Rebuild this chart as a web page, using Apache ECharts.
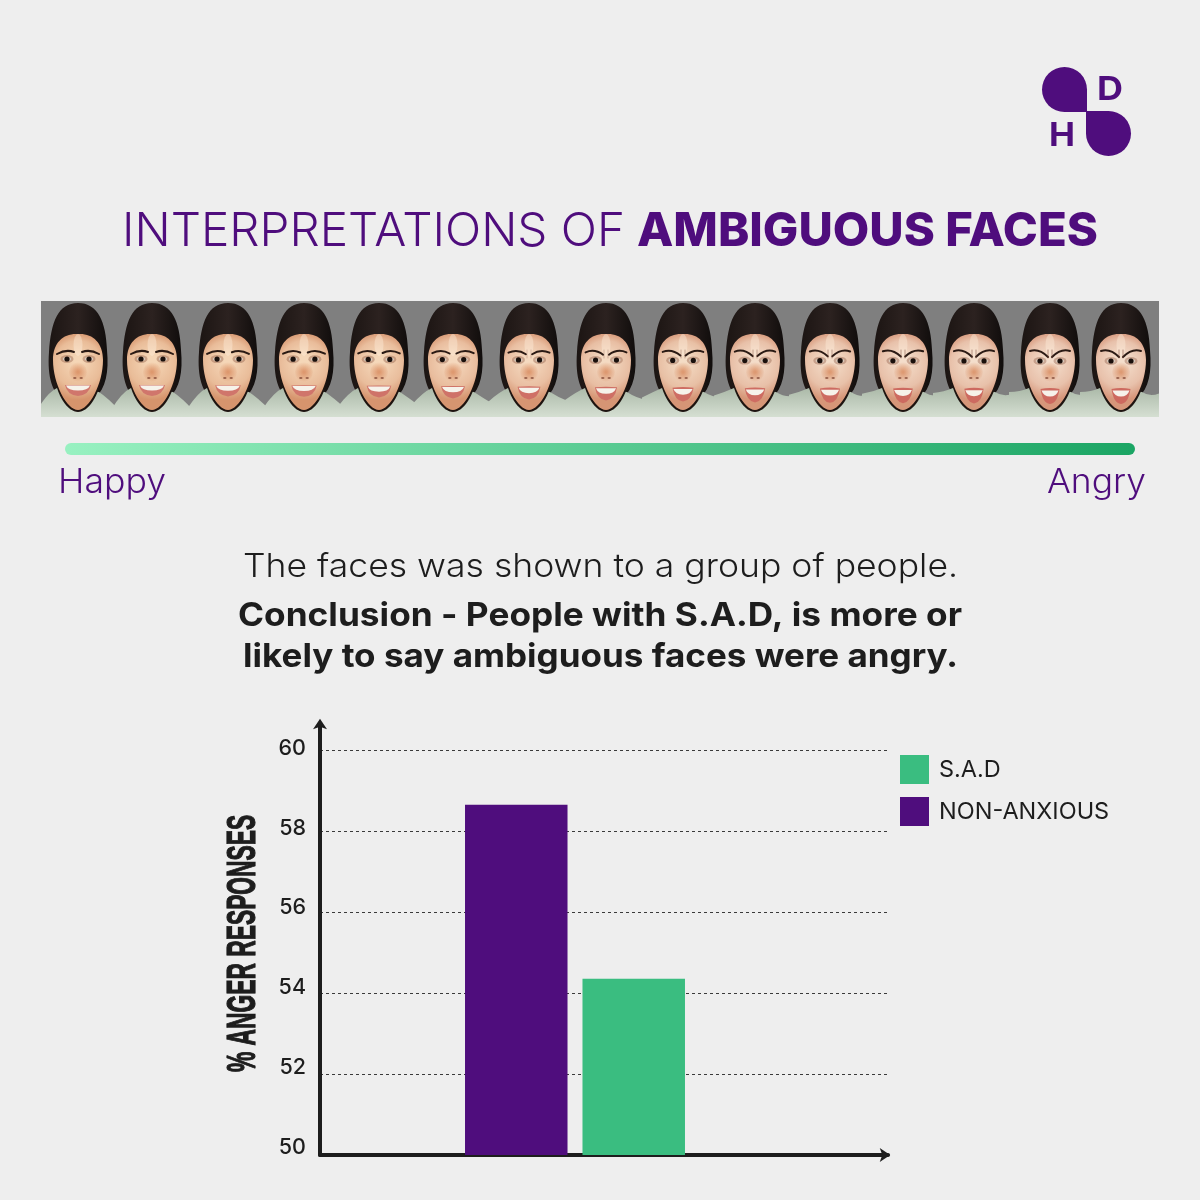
<!DOCTYPE html>
<html><head><meta charset="utf-8">
<style>html,body{margin:0;padding:0;background:#eeeeee}#c{width:1200px;height:1200px}</style>
<script src="https://cdn.jsdelivr.net/npm/echarts@6/dist/echarts.min.js"></script>
</head><body><div id="c"></div>
<script>
// ---- data ----
const groupLabels = [''];
const nonAnxiousValues = [58.65];
const sadValues = [54.35];
const seriesNames = ['NON-ANXIOUS', 'S.A.D'];
const legendOrder = ['S.A.D', 'NON-ANXIOUS'];
const yTicks = [50, 52, 54, 56, 58, 60];
const faceCentres = [78,152,228,304,379,453,529,606,683,755,830,903,974,1050,1121];
const faceAnger = [0,0,.05,.1,.2,.3,.45,.55,.7,.8,.85,.9,.95,1,1];

const PURPLE = '#4f0d7d', GREEN = '#3abd80', INK = '#1d1d1d';
const FONT = 'Inter, "Open Sans", sans-serif';
const measure = document.createElement('canvas').getContext('2d');

function fit(text, x0, x1, cy, size, weight, color, family) {
  const fam = family || FONT;
  measure.font = weight + ' ' + size + 'px ' + fam;
  const w = measure.measureText(text).width;
  return { type:'text', x:x0, y:cy, scaleX:(x1-x0)/w, z:10,
    style:{ text, fill:color, font: weight + ' ' + size + 'px ' + fam, align:'left', verticalAlign:'middle' } };
}

// --- decorative face strip ---
function mix(a,b,t){return a.map((v,i)=>Math.round(v+(b[i]-v)*t));}
function rgb(a){return 'rgb('+a.join(',')+')';}
function drawFace(g, cx, t){
  const Y = y => y - 301;
  // hair
  let s = g.createLinearGradient(cx-28,0,cx+28,0);
  s.addColorStop(0,'#1c1513'); s.addColorStop(.5,'#2c2220'); s.addColorStop(1,'#120e0d');
  g.fillStyle = s;
  g.beginPath(); g.moveTo(cx,Y(303));
  g.bezierCurveTo(cx+20,Y(303),cx+28,Y(322),cx+29,Y(350));
  g.bezierCurveTo(cx+31,Y(372),cx+28,Y(388),cx+17,Y(398));
  g.lineTo(cx-17,Y(398));
  g.bezierCurveTo(cx-25,Y(392),cx-31,Y(378),cx-29,Y(352));
  g.bezierCurveTo(cx-27,Y(322),cx-20,Y(303),cx,Y(303));
  g.fill();
  // shirt with collar
  s = g.createLinearGradient(0,Y(386),0,Y(417));
  s.addColorStop(0,'#a9b7a6'); s.addColorStop(1,'#d5dfd2');
  g.fillStyle = s;
  const valley = 410 - t*18;
  g.beginPath(); g.moveTo(cx-41,Y(418)); g.lineTo(cx-41,Y(valley));
  g.quadraticCurveTo(cx-30,Y(392),cx-21,Y(388));
  g.lineTo(cx+21,Y(392));
  g.quadraticCurveTo(cx+30,Y(398),cx+41,Y(valley));
  g.lineTo(cx+41,Y(418)); g.closePath(); g.fill();
  // jaw shadow
  g.fillStyle='#1e1410';
  g.beginPath(); g.moveTo(cx-24,Y(372));
  g.bezierCurveTo(cx-22,Y(396),cx-10,Y(412),cx,Y(412));
  g.bezierCurveTo(cx+10,Y(412),cx+22,Y(396),cx+24,Y(372));
  g.closePath(); g.fill();
  // skin
  const lit = mix([245,214,182],[244,222,204],t), edge = mix([214,148,108],[214,150,122],t);
  s = g.createRadialGradient(cx,Y(360),4,cx,Y(366),34);
  s.addColorStop(0,rgb(lit)); s.addColorStop(.65,rgb(mix(lit,edge,.4))); s.addColorStop(1,rgb(edge));
  g.fillStyle = s;
  g.beginPath(); g.moveTo(cx,Y(334));
  g.bezierCurveTo(cx+14,Y(333),cx+25,Y(342),cx+25,Y(360));
  g.bezierCurveTo(cx+25,Y(384),cx+11,Y(410),cx,Y(410));
  g.bezierCurveTo(cx-11,Y(410),cx-25,Y(384),cx-25,Y(360));
  g.bezierCurveTo(cx-25,Y(342),cx-14,Y(333),cx,Y(334));
  g.fill();
  // forehead light
  g.fillStyle='rgba(255,240,222,.4)';
  g.beginPath(); g.ellipse(cx,Y(345),4.5,11,0,0,7); g.fill();
  // eyes
  const eyeY = 359 + t*2, ex = 11 - t*1;
  [-1,1].forEach(d=>{
    g.fillStyle='rgba(140,90,70,.4)';
    g.beginPath(); g.ellipse(cx+d*ex,Y(eyeY),6.5,4,0,0,7); g.fill();
    g.fillStyle='#d9c9bb';
    g.beginPath(); g.ellipse(cx+d*ex,Y(eyeY),4.2,1.9,0,0,7); g.fill();
    g.fillStyle='#1a100c';
    g.beginPath(); g.arc(cx+d*ex,Y(eyeY),2.6,0,7); g.fill();
    // brow
    g.strokeStyle='#2a1a14'; g.lineWidth=2; g.lineCap='round';
    g.beginPath();
    g.moveTo(cx+d*(ex+10),Y(354-t*3));
    g.quadraticCurveTo(cx+d*(ex+1),Y(349-t*1),cx+d*(ex-7-t*1),Y(352+t*5));
    g.stroke();
  });
  // frown wrinkles
  if(t>.3){ g.strokeStyle='rgba(120,70,55,'+(t*.55)+')'; g.lineWidth=1;
    [-2,2].forEach(d=>{g.beginPath();g.moveTo(cx+d,Y(350));g.lineTo(cx+d,Y(358));g.stroke();});
  }
  // nose
  s = g.createRadialGradient(cx,Y(372),1,cx,Y(372),10);
  s.addColorStop(0,'rgba(215,135,90,.75)'); s.addColorStop(1,'rgba(215,135,90,0)');
  g.fillStyle=s;
  g.beginPath(); g.ellipse(cx,Y(372),9,10,0,0,7); g.fill();
  g.fillStyle='rgba(110,50,35,.65)';
  [-1,1].forEach(d=>{g.beginPath();g.ellipse(cx+d*3.2,Y(378),1.7,1,0,0,7);g.fill();});
  // mouth
  const mw = 12 - t*3.5, my = 386 + t*6;
  g.fillStyle = rgb(mix([208,118,108],[205,105,95],t));
  g.beginPath(); g.moveTo(cx-mw-1,Y(my-1-t*2));
  g.quadraticCurveTo(cx,Y(my-1-t*4),cx+mw+1,Y(my-1-t*2));
  g.quadraticCurveTo(cx+mw-1,Y(my+9+t*2),cx,Y(my+10+t*2));
  g.quadraticCurveTo(cx-mw+1,Y(my+9+t*2),cx-mw-1,Y(my-1-t*2));
  g.fill();
  g.fillStyle='#f6f2ea';
  g.beginPath(); g.moveTo(cx-mw,Y(my-.5-t));
  g.lineTo(cx+mw,Y(my-.5-t));
  g.quadraticCurveTo(cx+mw-2,Y(my+4.5),cx,Y(my+4.5));
  g.quadraticCurveTo(cx-mw+2,Y(my+4.5),cx-mw,Y(my-.5-t));
  g.fill();
}
const raw = document.createElement('canvas');
raw.width = 1118; raw.height = 116;
const strip = document.createElement('canvas');
strip.width = 1118; strip.height = 116;
(function(){
  const g = raw.getContext('2d');
  g.fillStyle='#7f7f7f'; g.fillRect(0,0,1118,116);
  g.translate(-41,0);
  faceCentres.forEach((cx,i)=>drawFace(g,cx,faceAnger[i]));
  const f = strip.getContext('2d');
  f.filter='blur(0.6px)';
  f.drawImage(raw,0,0);
})();

const yRich = {};
[[50,14],[52,12],[54,10],[56,8],[58,4],[60,2]].forEach(([v,p])=>{ yRich['o'+v] = { padding:[0,0,p,0], fontFamily:FONT, fontSize:21.5, fontWeight:500, color:INK }; });

const arrow = 'path://M6 0 L12 9 L6 6.8 L0 9 Z';

const option = {
  backgroundColor:'#eeeeee',
  animation:false,
  legend:{ orient:'vertical', left:900, top:755, itemWidth:29, itemHeight:29, itemGap:13, padding:0,
    icon:'rect', data:legendOrder, itemStyle:{borderWidth:0},
    textStyle:{ fontFamily:FONT, fontSize:23.5, fontWeight:400, color:INK, padding:[7,0,0,5] }, selectedMode:false },
  grid:[
    { left:320, right:1200-888, top:724, bottom:1200-1155, containLabel:false },
    { left:320, right:1200-830, top:724, bottom:1200-1155, containLabel:false }
  ],
  xAxis:[
    { gridIndex:0, type:'category', data:groupLabels, axisTick:{show:false}, axisLabel:{show:false}, splitLine:{show:false},
      axisLine:{ show:true, symbol:['none',arrow], symbolSize:[14,12], symbolOffset:[0,-3], lineStyle:{color:INK,width:4} } },
    { gridIndex:1, type:'category', data:groupLabels, show:false }
  ],
  yAxis:[
    { gridIndex:0, type:'value', min:50, max:60.642, interval:2,
      axisTick:{show:false},
      axisLine:{ show:true, symbol:['none',arrow], symbolSize:[14,12], symbolOffset:[0,0], lineStyle:{color:INK,width:4} },
      axisLabel:{ margin:14, showMaxLabel:false, rich:yRich,
        formatter:v => yTicks.includes(v) ? '{o'+v+'|'+v+'}' : '' },
      splitLine:{ show:true, showMinLine:false, showMaxLine:false, lineStyle:{ color:'#3a3a3a', width:1, type:[3,3] } } },
    { gridIndex:1, type:'value', min:50, max:60.642, show:false, splitLine:{show:false} }
  ],
  series:[
    { name:seriesNames[0], type:'bar', xAxisIndex:1, yAxisIndex:1, data:nonAnxiousValues, barWidth:102.5, barGap:'14.6%', itemStyle:{color:PURPLE} },
    { name:seriesNames[1], type:'bar', xAxisIndex:1, yAxisIndex:1, data:sadValues, barWidth:102.5, barGap:'14.6%', itemStyle:{color:GREEN} }
  ],
  graphic:[
    // logo
    { type:'rect', shape:{x:1042,y:67,width:45,height:45,r:[22.5,22.5,0,22.5]}, style:{fill:PURPLE} },
    { type:'rect', shape:{x:1086,y:111,width:45,height:45,r:[0,22.5,22.5,22.5]}, style:{fill:PURPLE} },
    fit('D',1097,1123,90,33,700,PURPLE),
    fit('H',1049,1075,136,33,700,PURPLE),
    // title
    fit('INTERPRETATIONS OF',122,625,232,47,300,PURPLE),
    fit('AMBIGUOUS FACES',637,1098,232,47,800,PURPLE),
    // faces
    { type:'image', style:{ image:strip, x:41, y:301, width:1118, height:116 } },
    // scale bar
    { type:'rect', shape:{x:65,y:443,width:1070,height:12,r:6},
      style:{ fill:new echarts.graphic.LinearGradient(0,0,1,0,[{offset:0,color:'#98f1c1'},{offset:1,color:'#1ba564'}]) } },
    fit('Happy',58,166,483,34,300,PURPLE),
    fit('Angry',1047,1146,483,34,300,PURPLE),
    // text
    fit('The faces was shown to a group of people.',243,958,567,33,300,INK),
    fit('Conclusion - People with S.A.D, is more or',238,962,616,33,700,INK),
    fit('likely to say ambiguous faces were angry.',243,958,657,33,700,INK),
    // axis title
    { type:'text', x:244, y:1072, rotation:Math.PI/2, scaleX:0.556, z:10,
      style:{ text:'% ANGER RESPONSES', fill:INK, stroke:INK, lineWidth:1.2, font:'700 41px "Liberation Sans Narrow", "Liberation Sans", sans-serif', align:'left', verticalAlign:'middle' } }
  ]
};
const chart = echarts.init(document.getElementById('c'), null, {renderer:'canvas', width:1200, height:1200});
chart.setOption(option);
</script></body></html>
